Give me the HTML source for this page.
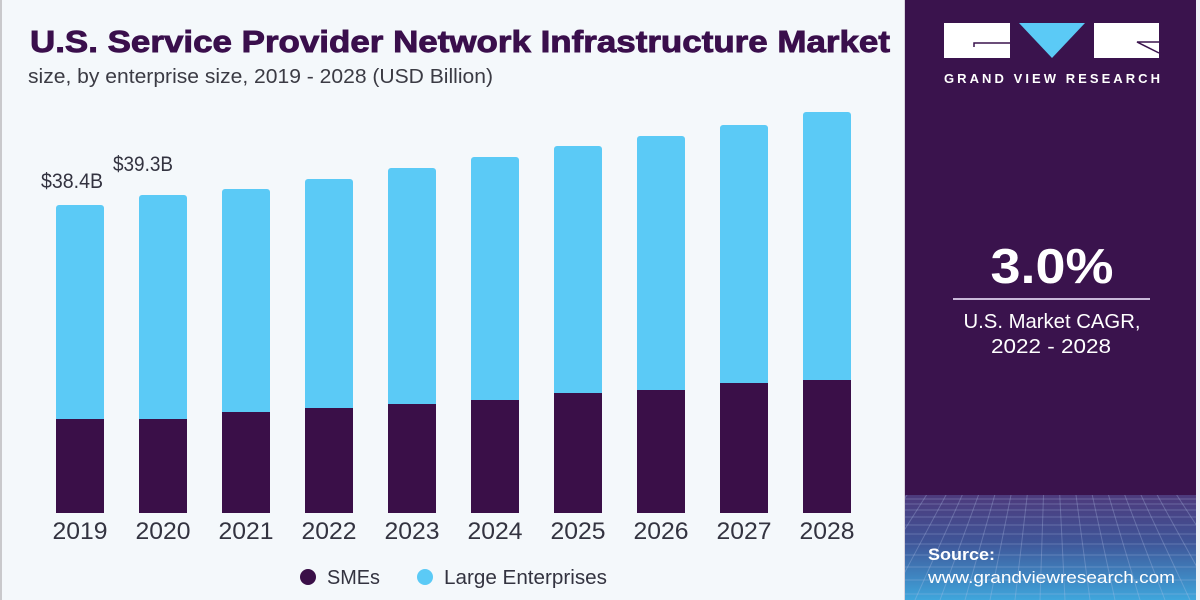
<!DOCTYPE html>
<html>
<head>
<meta charset="utf-8">
<style>
html,body{margin:0;padding:0;background:#f4f8fb;}
svg{display:block;}
text{font-family:"Liberation Sans",sans-serif;}
</style>
</head>
<body>
<svg width="1200" height="600" viewBox="0 0 1200 600" xmlns="http://www.w3.org/2000/svg">
  <defs>
    <linearGradient id="grid" x1="0" y1="0" x2="0" y2="1">
      <stop offset="0" stop-color="#4d3a7c"/>
      <stop offset="0.45" stop-color="#3f5598"/>
      <stop offset="1" stop-color="#3fa6dc"/>
    </linearGradient>
    <clipPath id="gclip"><rect x="905" y="495" width="291" height="105"/></clipPath>
  </defs>
  <rect x="0" y="0" width="1200" height="600" fill="#f4f8fb"/>
  <rect x="0" y="0" width="2" height="600" fill="#c9c9cc"/>

  <!-- Title -->
  <text x="30" y="52" font-size="31" font-weight="bold" fill="#3a0f4c" stroke="#3a0f4c" stroke-width="0.9" textLength="860" lengthAdjust="spacingAndGlyphs">U.S. Service Provider Network Infrastructure Market</text>
  <text x="28" y="83" font-size="20" fill="#3b3b44" textLength="465" lengthAdjust="spacingAndGlyphs">size, by enterprise size, 2019 - 2028 (USD Billion)</text>

  <!-- Value labels -->
  <text x="41" y="188" font-size="21" fill="#333340" textLength="62" lengthAdjust="spacingAndGlyphs">$38.4B</text>
  <text x="113" y="171" font-size="21" fill="#333340" textLength="60" lengthAdjust="spacingAndGlyphs">$39.3B</text>

  <!-- Bars -->
  <g>
    <rect x="56" y="205" width="48" height="220" rx="3" fill="#5bcaf6"/>
    <rect x="139" y="195" width="48" height="230" rx="3" fill="#5bcaf6"/>
    <rect x="222" y="189" width="48" height="230" rx="3" fill="#5bcaf6"/>
    <rect x="305" y="179" width="48" height="235" rx="3" fill="#5bcaf6"/>
    <rect x="388" y="168" width="48" height="240" rx="3" fill="#5bcaf6"/>
    <rect x="471" y="157" width="48" height="250" rx="3" fill="#5bcaf6"/>
    <rect x="554" y="146" width="48" height="250" rx="3" fill="#5bcaf6"/>
    <rect x="637" y="136" width="48" height="260" rx="3" fill="#5bcaf6"/>
    <rect x="720" y="125" width="48" height="265" rx="3" fill="#5bcaf6"/>
    <rect x="803" y="112" width="48" height="275" rx="3" fill="#5bcaf6"/>
    <rect x="56" y="419" width="48" height="94" fill="#3a0f48"/>
    <rect x="139" y="419" width="48" height="94" fill="#3a0f48"/>
    <rect x="222" y="412" width="48" height="101" fill="#3a0f48"/>
    <rect x="305" y="408" width="48" height="105" fill="#3a0f48"/>
    <rect x="388" y="404" width="48" height="109" fill="#3a0f48"/>
    <rect x="471" y="400" width="48" height="113" fill="#3a0f48"/>
    <rect x="554" y="393" width="48" height="120" fill="#3a0f48"/>
    <rect x="637" y="390" width="48" height="123" fill="#3a0f48"/>
    <rect x="720" y="383" width="48" height="130" fill="#3a0f48"/>
    <rect x="803" y="380" width="48" height="133" fill="#3a0f48"/>
  </g>

  <!-- Year labels -->
  <g font-size="24" fill="#333340" text-anchor="middle">
    <text x="80" y="539" textLength="55" lengthAdjust="spacingAndGlyphs">2019</text>
    <text x="163" y="539" textLength="55" lengthAdjust="spacingAndGlyphs">2020</text>
    <text x="246" y="539" textLength="55" lengthAdjust="spacingAndGlyphs">2021</text>
    <text x="329" y="539" textLength="55" lengthAdjust="spacingAndGlyphs">2022</text>
    <text x="412" y="539" textLength="55" lengthAdjust="spacingAndGlyphs">2023</text>
    <text x="495" y="539" textLength="55" lengthAdjust="spacingAndGlyphs">2024</text>
    <text x="578" y="539" textLength="55" lengthAdjust="spacingAndGlyphs">2025</text>
    <text x="661" y="539" textLength="55" lengthAdjust="spacingAndGlyphs">2026</text>
    <text x="744" y="539" textLength="55" lengthAdjust="spacingAndGlyphs">2027</text>
    <text x="827" y="539" textLength="55" lengthAdjust="spacingAndGlyphs">2028</text>
  </g>

  <!-- Legend -->
  <circle cx="308" cy="577" r="8" fill="#3a0f48"/>
  <text x="327" y="584" font-size="20" fill="#333340" textLength="53" lengthAdjust="spacingAndGlyphs">SMEs</text>
  <circle cx="425" cy="577" r="8" fill="#5bcaf6"/>
  <text x="444" y="584" font-size="20" fill="#333340" textLength="163" lengthAdjust="spacingAndGlyphs">Large Enterprises</text>

  <!-- Right panel -->
  <rect x="904" y="0" width="1" height="600" fill="#d8d4de"/>
  <rect x="905" y="0" width="291" height="600" fill="#3a134d"/>
  <rect x="905" y="495" width="291" height="105" fill="url(#grid)"/>
  <g clip-path="url(#gclip)" stroke="#b4c2e8" stroke-opacity="0.3" stroke-width="1" fill="none">
    <path d="M905 499 H1196 M905 504 H1196 M905 510 H1196 M905 517 H1196 M905 525 H1196 M905 534 H1196 M905 544 H1196 M905 555 H1196 M905 567 H1196 M905 580 H1196 M905 594 H1196"/>
    <path d="M1050 300 L830 600 M1050 300 L860 600 M1050 300 L890 600 M1050 300 L915 600 M1050 300 L940 600 M1050 300 L965 600 M1050 300 L990 600 M1050 300 L1015 600 M1050 300 L1040 600 M1050 300 L1065 600 M1050 300 L1090 600 M1050 300 L1115 600 M1050 300 L1140 600 M1050 300 L1165 600 M1050 300 L1190 600 M1050 300 L1215 600 M1050 300 L1245 600 M1050 300 L1275 600"/>
  </g>
  <rect x="1196" y="0" width="4" height="600" fill="#eef2f6"/>

  <!-- Logo -->
  <rect x="944" y="23" width="66" height="35" fill="#ffffff"/>
  <path d="M974 47 V43 H1010" stroke="#3a134d" stroke-width="1.5" fill="none"/>
  <polygon points="1019,23 1085,23 1052,58" fill="#5bcaf6"/>
  <rect x="1094" y="23" width="65" height="35" fill="#ffffff"/>
  <path d="M1159 42 H1137 L1159 53" stroke="#3a134d" stroke-width="1.5" fill="none"/>
  <text x="944" y="83" font-size="13" font-weight="bold" fill="#ffffff" textLength="216" lengthAdjust="spacing">GRAND VIEW RESEARCH</text>

  <!-- CAGR -->
  <text x="1052" y="283" font-size="49" font-weight="bold" fill="#ffffff" text-anchor="middle" textLength="123" lengthAdjust="spacingAndGlyphs">3.0%</text>
  <rect x="953" y="298" width="197" height="2" fill="#c9b9d9"/>
  <text x="1052" y="328" font-size="20" fill="#ffffff" text-anchor="middle" textLength="177" lengthAdjust="spacingAndGlyphs">U.S. Market CAGR,</text>
  <text x="1051" y="353" font-size="20" fill="#ffffff" text-anchor="middle" textLength="120" lengthAdjust="spacingAndGlyphs">2022 - 2028</text>

  <!-- Source -->
  <text x="928" y="560" font-size="17" font-weight="bold" fill="#ffffff" textLength="67" lengthAdjust="spacingAndGlyphs">Source:</text>
  <text x="928" y="583" font-size="17" fill="#ffffff" textLength="247" lengthAdjust="spacingAndGlyphs">www.grandviewresearch.com</text>
</svg>
</body>
</html>
